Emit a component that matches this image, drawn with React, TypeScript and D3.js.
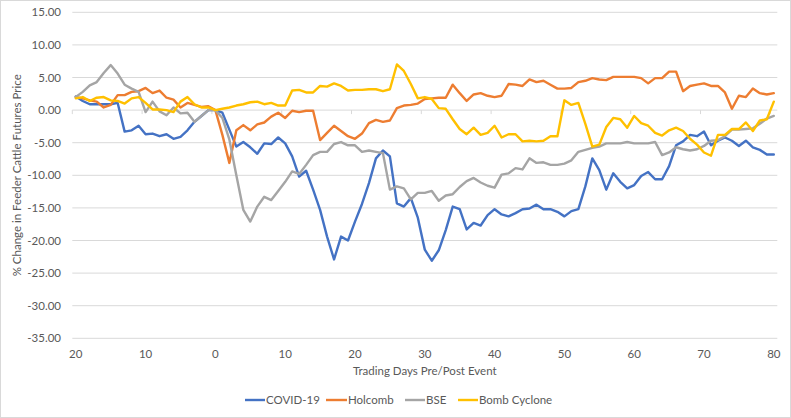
import React from 'react'
import * as d3 from 'd3'

// trading days relative to the event, -20 .. 80
const days = d3.range(-20, 81)

const covid = [
  2.1, 1.4, 0.9, 0.9, 0.9, 0.9, 1.1, -3.3, -3.1, -2.4, -3.7, -3.6, -4.0, -3.7, -4.4, -4.1, -3.1, -1.8, -0.9, 0,
  0, -0.4, -3.0, -5.6, -4.9, -5.7, -6.7, -5.1, -5.2, -4.2, -5.1, -7.1, -10.2, -9.3, -12.2, -15.3, -19.4, -22.9, -19.4, -20.0,
  -17.1, -14.4, -11.2, -7.4, -6.2, -7.1, -14.3, -14.8, -13.5, -16.5, -21.4, -23.1, -21.5, -18.4, -14.8, -15.2, -18.3, -17.3, -17.7, -16.1,
  -15.2, -16.0, -16.3, -15.8, -15.2, -15.1, -14.5, -15.2, -15.2, -15.6, -16.3, -15.5, -15.2, -11.7, -7.4, -9.2, -12.2, -9.7, -11.0, -12.0,
  -11.5, -10.1, -9.5, -10.6, -10.6, -8.6, -5.4, -4.8, -3.8, -4.0, -3.3, -5.4, -4.7, -4.2, -4.7, -5.5, -4.7, -5.7, -6.1, -6.8,
  -6.8,
]

const holcomb = [
  2.0, 1.8, 1.5, 1.3, 0.4, 0.8, 2.3, 2.3, 2.8, 2.9, 3.4, 2.6, 3.0, 1.9, 1.6, 0.4, 1.1, 0.8, 0.5, 0.6,
  0, -3.8, -8.1, -3.1, -2.3, -3.1, -2.2, -1.9, -1.0, -0.4, -1.2, -0.1, -0.3, -0.1, -0.1, -4.6, -3.5, -2.4, -3.2, -4.0,
  -4.4, -3.6, -2.0, -1.5, -1.8, -1.6, 0.3, 0.7, 0.8, 1.0, 1.7, 1.8, 1.9, 1.9, 3.9, 2.6, 1.4, 2.4, 2.6, 2.2,
  2.0, 2.2, 4.0, 3.9, 3.7, 4.7, 4.3, 4.5, 3.9, 3.3, 3.3, 3.4, 4.3, 4.5, 4.9, 4.7, 4.6, 5.1, 5.1, 5.1,
  5.1, 4.9, 4.1, 4.9, 4.9, 5.9, 5.9, 2.9, 3.7, 3.9, 4.1, 3.7, 3.7, 2.7, 0.2, 2.2, 2.0, 3.3, 2.6, 2.4,
  2.6,
]

const bse = [
  2.0, 2.8, 3.8, 4.3, 5.7, 6.9, 5.6, 3.9, 3.3, 2.8, -0.3, 1.3, -0.2, -0.8, 0.4, -0.5, -0.4, -1.8, -0.9, 0,
  0, -1.2, -4.5, -10.0, -15.3, -17.1, -14.8, -13.3, -13.8, -12.4, -11.0, -9.4, -9.8, -8.4, -6.9, -6.4, -6.4, -5.2, -4.9, -5.4,
  -5.4, -6.4, -6.2, -6.4, -6.6, -12.2, -11.7, -12.0, -13.7, -12.7, -12.7, -12.4, -13.9, -13.1, -12.9, -11.8, -10.9, -10.4, -11.1, -11.6,
  -11.9, -9.9, -9.7, -8.9, -9.1, -7.4, -8.1, -8.0, -8.4, -8.4, -8.2, -7.7, -6.4, -6.1, -5.8, -5.6, -5.1, -5.1, -5.1, -4.9,
  -5.1, -5.1, -5.1, -4.9, -6.9, -6.5, -5.7, -6.0, -6.2, -6.0, -5.5, -4.7, -4.6, -4.0, -3.0, -3.0, -2.9, -2.8, -2.1, -1.3,
  -0.9,
]

const bombCyclone = [
  1.8, 2.0, 1.4, 1.9, 2.0, 1.5, 1.4, 1.0, 1.8, 2.0, 1.1, 0.1, 0.1, 0, -0.3, 1.3, 2.0, 0.9, 0.4, 0.4,
  0, 0.2, 0.4, 0.7, 0.9, 1.2, 1.3, 0.9, 1.1, 0.7, 0.7, 3.0, 3.1, 2.7, 2.7, 3.7, 3.6, 4.1, 3.7, 3.0,
  3.1, 3.1, 3.2, 3.2, 2.9, 3.2, 7.0, 6.0, 4.0, 1.8, 2.0, 1.7, 0.3, 0.2, -1.4, -2.9, -3.7, -2.7, -3.8, -3.5,
  -2.4, -4.2, -3.7, -3.7, -4.8, -4.7, -4.8, -4.7, -4.0, -4.0, 1.5, 0.8, 1.1, -2.1, -5.6, -5.3, -2.6, -1.2, -1.4, -2.7,
  -0.9, -2.0, -2.4, -3.5, -3.9, -3.1, -2.7, -3.2, -4.4, -5.3, -6.5, -7.0, -3.8, -3.8, -2.9, -2.9, -1.9, -3.2, -1.6, -1.4,
  1.3,
]

const yTicks = [15, 10, 5, 0, -5, -10, -15, -20, -25, -30, -35]
const xTicks = [-20, -10, 0, 10, 20, 30, 40, 50, 60, 70, 80]

const series = [
  { name: 'COVID-19', values: covid, color: '#4472C4' },
  { name: 'Holcomb', values: holcomb, color: '#ED7D31' },
  { name: 'BSE', values: bse, color: '#A5A5A5' },
  { name: 'Bomb Cyclone', values: bombCyclone, color: '#FFC000' },
]

const W = 791
const H = 418
const left = 72.3
const right = 777.3
const top = 12.3
const bottom = 338.3
const font = 'Lato, "Open Sans", sans-serif'
const textColor = '#595959'

export default function App() {
  const x = d3.scaleLinear().domain([-20.5, 80.5]).range([left, right])
  const y = d3.scaleLinear().domain([-35, 15]).range([bottom, top])

  const line = d3
    .line<number>()
    .x((_, i) => x(days[i]))
    .y((v) => y(v))

  const legendItems = [
    { x: 245, w: 20 },
    { x: 326, w: 21 },
    { x: 405, w: 20 },
    { x: 458, w: 20 },
  ]

  return (
    <svg
      width={W}
      height={H}
      style={{ position: 'absolute', left: 0, top: 0, background: '#fff' }}
      fontFamily={font}
    >
      <rect x={0.5} y={0.5} width={W - 1} height={H - 1} fill="#fff" stroke="#d9d9d9" />

      {yTicks.map((t) => (
        <g key={t}>
          <line x1={left} x2={right} y1={y(t)} y2={y(t)} stroke="#d9d9d9" strokeWidth={1} />
          <text x={61} y={y(t)} dy="0.35em" textAnchor="end" fontSize={11.5} fill={textColor}>
            {t.toFixed(2)}
          </text>
        </g>
      ))}

      {/* category tick marks on the zero line */}
      {d3.range(0, 11).map((k) => {
        const tx = x(-20.5 + k * 10)
        return <line key={k} x1={tx} x2={tx} y1={y(0)} y2={y(0) + 4} stroke="#d9d9d9" />
      })}

      {xTicks.map((t) => (
        <text key={t} x={x(t)} y={358} textAnchor="middle" fontSize={11.5} fill={textColor}>
          {Math.abs(t)}
        </text>
      ))}

      {series.map((s) => (
        <path
          key={s.name}
          d={line(s.values) ?? ''}
          fill="none"
          stroke={s.color}
          strokeWidth={2.4}
          strokeLinejoin="round"
          strokeLinecap="round"
        />
      ))}

      <text x={(left + right) / 2} y={375} textAnchor="middle" fontSize={11.5} fill={textColor}>
        Trading Days Pre/Post Event
      </text>

      <text
        transform={`translate(21, ${(top + bottom) / 2}) rotate(-90)`}
        textAnchor="middle"
        fontSize={11.5}
        fill={textColor}
      >
        % Change in Feeder Cattle Futures Price
      </text>

      {series.map((s, i) => (
        <g key={s.name}>
          <line
            x1={legendItems[i].x}
            x2={legendItems[i].x + legendItems[i].w}
            y1={400}
            y2={400}
            stroke={s.color}
            strokeWidth={2.4}
          />
          <text x={legendItems[i].x + legendItems[i].w + 1} y={400} dy="0.35em" fontSize={11.5} fill={textColor}>
            {s.name}
          </text>
        </g>
      ))}
    </svg>
  )
}
